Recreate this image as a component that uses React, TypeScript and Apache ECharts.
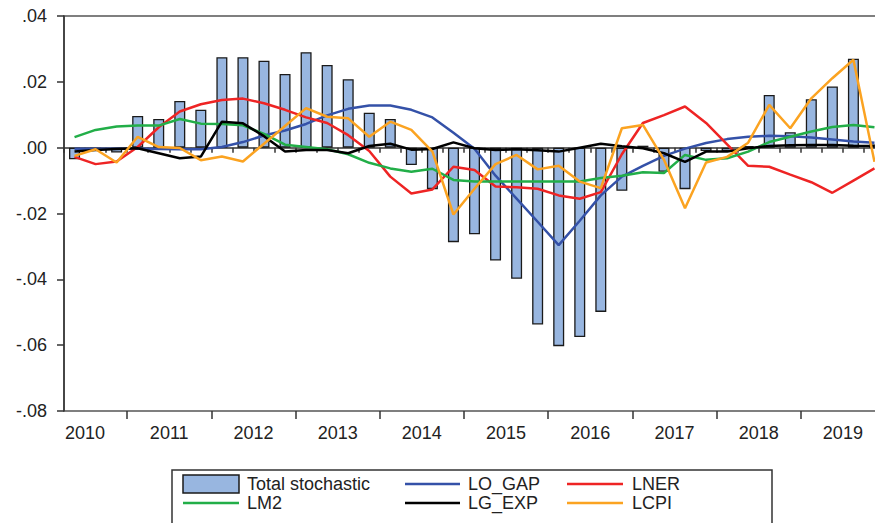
import React, { useEffect, useRef } from 'react';
import * as echarts from 'echarts';

const categories = [
  '2010Q2', '2010Q3', '2010Q4',
  '2011Q1', '2011Q2', '2011Q3', '2011Q4',
  '2012Q1', '2012Q2', '2012Q3', '2012Q4',
  '2013Q1', '2013Q2', '2013Q3', '2013Q4',
  '2014Q1', '2014Q2', '2014Q3', '2014Q4',
  '2015Q1', '2015Q2', '2015Q3', '2015Q4',
  '2016Q1', '2016Q2', '2016Q3', '2016Q4',
  '2017Q1', '2017Q2', '2017Q3', '2017Q4',
  '2018Q1', '2018Q2', '2018Q3', '2018Q4',
  '2019Q1', '2019Q2', '2019Q3', '2019Q4',
];

const yTicks = [-0.08, -0.06, -0.04, -0.02, 0, 0.02, 0.04];

const totalStochastic = [
  -0.0035, -0.001, -0.0015,
  0.0096, 0.0087, 0.0142, 0.0115,
  0.0275, 0.0275, 0.0264, 0.0224,
  0.029, 0.0251, 0.0208, 0.0106,
  0.0087, -0.0053, -0.0126, -0.0287,
  -0.0263, -0.0343, -0.0398, -0.0537,
  -0.0603, -0.0575, -0.0499, -0.0131,
  0.0006, -0.0073, -0.0126, -0.001,
  -0.001, 0.0005, 0.016, 0.0047,
  0.0147, 0.0186, 0.027, 0.001,
];

const loGap = [
  -0.0003, -0.0003, -0.0003,
  -0.0003, -0.0004, -0.0005, -0.0005,
  0.0002, 0.0017, 0.0037, 0.0052,
  0.0072, 0.0098, 0.0118, 0.0128,
  0.0128, 0.0115, 0.0092, 0.0045,
  -0.0003, -0.0085, -0.0155, -0.0225,
  -0.0296, -0.0222, -0.0145, -0.0088,
  -0.0055, -0.0025, -0.0003, 0.0014,
  0.0026, 0.0033, 0.0036, 0.0035,
  0.0031, 0.0025, 0.0019, 0.0015,
];

const lner = [
  -0.0028, -0.005, -0.0042,
  0.0002, 0.0062, 0.011, 0.0132,
  0.0145, 0.0149, 0.0135, 0.0115,
  0.0092, 0.0075, 0.0038, -0.001,
  -0.0088, -0.0139, -0.0127, -0.0058,
  -0.0068, -0.0118, -0.012, -0.0125,
  -0.0145, -0.0155, -0.0135, -0.002,
  0.0075, 0.0099, 0.0125, 0.0075,
  0.001, -0.0055, -0.0058, -0.0082,
  -0.0105, -0.0137, -0.01, -0.0063,
];

const lm2 = [
  0.0032, 0.0054, 0.0064,
  0.0067, 0.0067, 0.0087, 0.0073,
  0.0072, 0.0068, 0.0042, 0.0009,
  0.0002, -0.0005, -0.002, -0.0046,
  -0.0063, -0.0073, -0.0064, -0.0098,
  -0.0103, -0.0103, -0.0103, -0.0103,
  -0.0103, -0.0103, -0.0092, -0.0085,
  -0.0075, -0.0077, -0.0022, -0.0037,
  -0.0032, -0.0012, 0.0017, 0.0033,
  0.0049, 0.0063, 0.0069, 0.0062,
];

const lgExp = [
  -0.0012, -0.0007, -0.0004,
  -0.0002, -0.0017, -0.0032, -0.0027,
  0.0079, 0.0074, 0.0035, -0.0012,
  -0.0007, -0.0007, -0.0017, 0.0005,
  0.0012, -0.0006, -0.0004, 0.0016,
  -0.0002, -0.0007, -0.0005, -0.0008,
  -0.0012, 0, 0.0012, 0.0004,
  -0.0002, -0.0017, -0.0043, -0.0012,
  -0.0012, -0.0002, 0.0005, 0.0007,
  0.0008, 0.0008, 0.0006, 0.0005,
];

const lcpi = [
  -0.0025, -0.0005, -0.0045,
  0.0033, 0.0002, -0.0001, -0.0038,
  -0.0027, -0.0042, 0.0012, 0.0066,
  0.012, 0.0094, 0.0089, 0.0033,
  0.0079, 0.0054, -0.0012, -0.0203,
  -0.0125, -0.005, -0.0022, -0.0066,
  -0.0055, -0.0103, -0.0123, 0.0059,
  0.0069, -0.0037, -0.0184, -0.0045,
  -0.0028, 0.0015, 0.013, 0.0059,
  0.015, 0.0211, 0.0267, -0.0043,
];

const FONT = '"Liberation Sans", Arial, Helvetica, sans-serif';
const TEXT = '#222';

const COLORS = {
  bar: '#98b6e0',
  loGap: '#3451a8',
  lner: '#ee2424',
  lm2: '#22ae48',
  lgExp: '#000000',
  lcpi: '#fba321',
};

function fmtY(v: number): string {
  const s = Math.abs(v).toFixed(2).replace(/^0/, '');
  return v < -1e-9 ? '-' + s : s;
}

function legendLine(x1: number, x2: number, y: number, color: string) {
  return {
    type: 'line',
    shape: { x1, y1: y, x2, y2: y },
    style: { stroke: color, lineWidth: 2.5 },
  };
}

function legendText(x: number, y: number, text: string) {
  return {
    type: 'text',
    x,
    y,
    style: {
      text,
      fill: TEXT,
      font: `18px ${FONT}`,
      verticalAlign: 'middle',
      align: 'left',
    },
  };
}

export default function App() {
  const ref = useRef<HTMLDivElement>(null);

  useEffect(() => {
    if (!ref.current) return;
    const chart = echarts.init(ref.current, null, { renderer: 'svg' });

    const lineSeries = (name: string, data: number[], color: string) => ({
      name,
      type: 'line',
      data,
      xAxisIndex: 0,
      yAxisIndex: 0,
      symbol: 'none',
      smooth: false,
      lineStyle: { color, width: 2.5 },
      itemStyle: { color },
      z: 3,
    });

    const row1 = 484;
    const row2 = 503;

    chart.setOption({
      animation: false,
      backgroundColor: '#ffffff',
      grid: {
        left: 64,
        top: 16,
        right: 0,
        bottom: 112,
        show: true,
        borderColor: '#555',
        borderWidth: 1.5,
        backgroundColor: 'transparent',
      },
      xAxis: [
        {
          type: 'category',
          data: categories,
          position: 'bottom',
          boundaryGap: true,
          axisLine: { show: true, lineStyle: { color: '#333', width: 1.5 } },
          axisTick: { show: true, interval: 0, length: 5, lineStyle: { color: '#333', width: 1.5 } },
          axisLabel: {
            interval: (i: number) => i % 4 === 0,
            formatter: (v: string) => v.slice(0, 4),
            padding: [0, 0, 0, 21],
            margin: 13,
            fontSize: 18,
            fontFamily: FONT,
            color: TEXT,
          },
          splitLine: { show: false },
        },
        {
          type: 'category',
          data: categories,
          position: 'bottom',
          boundaryGap: true,
          axisLine: { show: false },
          axisTick: {
            show: true,
            interval: (i: number) => i % 4 === 3,
            length: 8,
            lineStyle: { color: '#333', width: 1.5 },
          },
          axisLabel: { show: false },
          splitLine: { show: false },
        },
      ],
      yAxis: {
        type: 'value',
        min: yTicks[0],
        max: yTicks[yTicks.length - 1],
        interval: 0.02,
        axisLine: { show: true, lineStyle: { color: '#333', width: 1.5 } },
        axisTick: { show: true, length: 7, lineStyle: { color: '#333', width: 1.5 } },
        axisLabel: {
          formatter: fmtY,
          margin: 17,
          fontSize: 18,
          fontFamily: FONT,
          color: TEXT,
        },
        splitLine: { show: false },
      },
      series: [
        {
          name: 'Total stochastic',
          type: 'bar',
          data: totalStochastic,
          xAxisIndex: 0,
          yAxisIndex: 0,
          barWidth: 11,
          itemStyle: { color: COLORS.bar, borderColor: '#1a1a1a', borderWidth: 1.3 },
          z: 2,
        },
        lineSeries('LO_GAP', loGap, COLORS.loGap),
        lineSeries('LNER', lner, COLORS.lner),
        lineSeries('LM2', lm2, COLORS.lm2),
        lineSeries('LG_EXP', lgExp, COLORS.lgExp),
        lineSeries('LCPI', lcpi, COLORS.lcpi),
      ],
      graphic: [
        {
          type: 'rect',
          shape: { x: 172, y: 470, width: 600, height: 60 },
          style: { fill: '#fff', stroke: '#333', lineWidth: 1.5 },
        },
        {
          type: 'rect',
          shape: { x: 183, y: 475, width: 56, height: 18 },
          style: { fill: COLORS.bar, stroke: '#1a1a1a', lineWidth: 1.5 },
        },
        legendText(247, row1, 'Total stochastic'),
        legendLine(405, 460, row1, COLORS.loGap),
        legendText(468, row1, 'LO_GAP'),
        legendLine(567, 623, row1, COLORS.lner),
        legendText(632, row1, 'LNER'),
        legendLine(183, 239, row2, COLORS.lm2),
        legendText(247, row2, 'LM2'),
        legendLine(405, 460, row2, COLORS.lgExp),
        legendText(468, row2, 'LG_EXP'),
        legendLine(567, 623, row2, COLORS.lcpi),
        legendText(632, row2, 'LCPI'),
      ],
    });

    return () => chart.dispose();
  }, []);

  return (
    <div
      style={{
        position: 'fixed',
        left: 0,
        top: 0,
        width: 875,
        height: 523,
        overflow: 'hidden',
        background: '#fff',
      }}
    >
      <div ref={ref} style={{ width: 885, height: 523 }} />
    </div>
  );
}
